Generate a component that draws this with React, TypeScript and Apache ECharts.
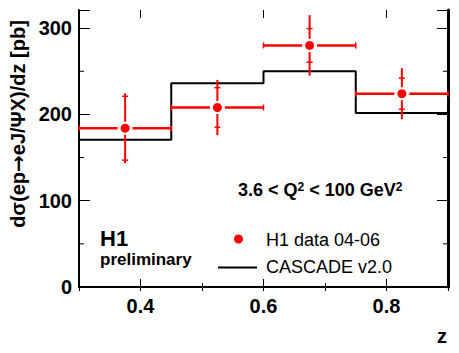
import React, { useEffect, useRef } from "react";
import * as echarts from "echarts";

const zCenters = [0.375, 0.525, 0.675, 0.825];
const zLow = [0.3, 0.45, 0.6, 0.75];
const zHigh = [0.45, 0.6, 0.75, 0.9];
const h1Values = [184, 208, 280, 224];
const statErrors = [37, 23, 19.5, 18];
const totalErrors = [40.5, 32, 35, 29.5];
const cascadeEdges = [0.3, 0.45, 0.6, 0.75, 0.9];
const cascadeValues = [170.5, 236, 250, 201.5];
const xTickLabels = [0.4, 0.6, 0.8];
const yMinorTicks = [50, 150, 250];

const FONT = "'Liberation Sans', Arial, Helvetica, sans-serif";
const RED = "#ff0000";

export default function App() {
  const ref = useRef<HTMLDivElement>(null);
  useEffect(() => {
    document.body.style.margin = "0";
    const chart = echarts.init(ref.current!, undefined, { renderer: "svg" });
    const errData = zCenters.map((z, i) => [z, h1Values[i], zLow[i], zHigh[i], statErrors[i], totalErrors[i]]);
    const cascadeData = cascadeEdges.map((e, i) => [e, cascadeValues[Math.min(i, cascadeValues.length - 1)]]);

    const option: any = {
      animation: false,
      textStyle: { fontFamily: FONT },
      grid: { left: 79, right: 11, top: 10, bottom: 66 },
      xAxis: [
        {
          type: "value", position: "bottom", min: 0.3, max: 0.9, interval: 0.1,
          axisLine: { lineStyle: { color: "#000", width: 2 } },
          axisTick: { inside: true, length: 4, lineStyle: { color: "#000", width: 1 } },
          splitLine: { show: false },
          axisLabel: {
            margin: 9, color: "#000", fontWeight: "bold", fontSize: 20, fontFamily: FONT,
            formatter: (v: number) => {
              const r = Math.round(v * 10) / 10;
              return xTickLabels.some((t) => Math.abs(t - r) < 1e-6) ? r.toFixed(1) : "";
            },
          },
        },
        {
          type: "value", position: "top", min: 0.3, max: 0.9, interval: 0.1,
          axisLine: { lineStyle: { color: "#000", width: 1 } },
          axisTick: { inside: true, length: 4, lineStyle: { color: "#000", width: 1 } },
          splitLine: { show: false },
          axisLabel: { show: false },
        },
      ],
      yAxis: [
        {
          type: "value", position: "left", min: 0, max: 321, interval: 100,
          axisLine: { show: true, lineStyle: { color: "#000", width: 2 } },
          axisTick: { show: true, inside: true, length: 11, lineStyle: { color: "#000", width: 1 } },
          splitLine: { show: false },
          axisLabel: {
            margin: 7, color: "#000", fontWeight: "bold", fontSize: 20, fontFamily: FONT,
            formatter: (v: number) => (Math.round(v) % 100 === 0 ? String(Math.round(v)) : ""),
          },
        },
        {
          type: "value", position: "right", min: 0, max: 321, interval: 100,
          axisLine: { show: true, lineStyle: { color: "#000", width: 3 } },
          axisTick: { show: true, inside: true, length: 11, lineStyle: { color: "#000", width: 1 } },
          splitLine: { show: false },
          axisLabel: { show: false },
        },
      ],
      series: [
        {
          type: "line", name: "CASCADE v2.0", step: "end", data: cascadeData,
          symbol: "none", lineStyle: { color: "#000", width: 2 }, z: 2,
        },
        {
          type: "custom", name: "xMajorTicks", data: xTickLabels.map((v) => [v, 0]),
          encode: { x: 0, y: 1 }, silent: true, z: 1,
          renderItem: (params: any, api: any) => {
            const cs = params.coordSys;
            const px = api.coord([api.value(0), 0])[0];
            const st = { stroke: "#000", lineWidth: 1 };
            return {
              type: "group",
              children: [
                { type: "line", shape: { x1: px, y1: cs.y + cs.height, x2: px, y2: cs.y + cs.height - 8 }, style: st },
                { type: "line", shape: { x1: px, y1: cs.y, x2: px, y2: cs.y + 8 }, style: st },
              ],
            };
          },
        },
        {
          type: "custom", name: "yMinorTicks", data: yMinorTicks.map((v) => [0.3, v]),
          encode: { x: 0, y: 1 }, silent: true, z: 1,
          renderItem: (params: any, api: any) => {
            const cs = params.coordSys;
            const py = api.coord([0.3, api.value(1)])[1];
            const st = { stroke: "#000", lineWidth: 1 };
            return {
              type: "group",
              children: [
                { type: "line", shape: { x1: cs.x, y1: py, x2: cs.x + 5, y2: py }, style: st },
                { type: "line", shape: { x1: cs.x + cs.width - 5, y1: py, x2: cs.x + cs.width, y2: py }, style: st },
              ],
            };
          },
        },
        {
          type: "custom", name: "errors", data: errData,
          encode: { x: 0, y: 1 }, z: 3,
          renderItem: (params: any, api: any) => {
            const x = api.value(0), y = api.value(1), lo = api.value(2), hi = api.value(3);
            const se = api.value(4), te = api.value(5);
            const c = api.coord([x, y]);
            const pLo = api.coord([lo, y])[0];
            const pHi = api.coord([hi, y])[0];
            const tTop = api.coord([x, y + te])[1];
            const tBot = api.coord([x, y - te])[1];
            const sTop = api.coord([x, y + se])[1];
            const sBot = api.coord([x, y - se])[1];
            const h = { stroke: RED, lineWidth: 2.5 };
            const v = { stroke: RED, lineWidth: 2 };
            const t = { stroke: RED, lineWidth: 1.5 };
            return {
              type: "group",
              children: [
                { type: "line", shape: { x1: pLo, y1: c[1], x2: c[0] - 7.5, y2: c[1] }, style: h },
                { type: "line", shape: { x1: c[0] + 7.5, y1: c[1], x2: pHi, y2: c[1] }, style: h },
                { type: "line", shape: { x1: pLo, y1: c[1] - 3, x2: pLo, y2: c[1] + 3 }, style: t },
                { type: "line", shape: { x1: pHi, y1: c[1] - 3, x2: pHi, y2: c[1] + 3 }, style: t },
                { type: "line", shape: { x1: c[0], y1: tTop, x2: c[0], y2: c[1] - 6.5 }, style: v },
                { type: "line", shape: { x1: c[0], y1: c[1] + 6.5, x2: c[0], y2: tBot }, style: v },
                { type: "line", shape: { x1: c[0] - 3, y1: sTop, x2: c[0] + 3, y2: sTop }, style: t },
                { type: "line", shape: { x1: c[0] - 3, y1: sBot, x2: c[0] + 3, y2: sBot }, style: t },
              ],
            };
          },
        },
        {
          type: "scatter", name: "H1 data 04-06", data: zCenters.map((z, i) => [z, h1Values[i]]),
          symbol: "circle", symbolSize: 9, itemStyle: { color: RED, opacity: 1 }, z: 4,
        },
      ],
      graphic: [
        {
          type: "text", x: 18, y: 124, rotation: Math.PI / 2,
          style: {
            text: "dσ(ep{a|→}eJ/ΨX)/dz [pb]", font: `bold 20px ${FONT}`, fill: "#000",
            align: "center", verticalAlign: "middle",
            rich: { a: { fontFamily: "'DejaVu Sans', sans-serif", fontWeight: "bold", fontSize: 20 } },
          },
        },
        {
          type: "text", x: 442, y: 336,
          style: { text: "z", font: `bold 20px ${FONT}`, fill: "#000", align: "center", verticalAlign: "middle" },
        },
        {
          type: "text", x: 238, y: 190,
          style: {
            text: "3.6 < Q{s|2} < 100 GeV{s|2}", font: `bold 18px ${FONT}`, fill: "#000",
            align: "left", verticalAlign: "middle",
            rich: { s: { fontFamily: FONT, fontWeight: "bold", fontSize: 12, verticalAlign: "top", lineHeight: 18 } },
          },
        },
        {
          type: "text", x: 100, y: 238,
          style: { text: "H1", font: `bold 22px ${FONT}`, fill: "#000", align: "left", verticalAlign: "middle" },
        },
        {
          type: "text", x: 100, y: 259,
          style: { text: "preliminary", font: `bold 17px ${FONT}`, fill: "#000", align: "left", verticalAlign: "middle" },
        },
        { type: "circle", shape: { cx: 238.5, cy: 239, r: 4.5 }, style: { fill: RED } },
        {
          type: "text", x: 266, y: 239.5,
          style: { text: "H1 data 04-06", font: `18px ${FONT}`, fill: "#000", align: "left", verticalAlign: "middle" },
        },
        { type: "line", shape: { x1: 218, y1: 267.5, x2: 257, y2: 267.5 }, style: { stroke: "#000", lineWidth: 2 } },
        {
          type: "text", x: 266, y: 266.5,
          style: { text: "CASCADE v2.0", font: `18px ${FONT}`, fill: "#000", align: "left", verticalAlign: "middle" },
        },
      ],
    };
    chart.setOption(option);
    return () => chart.dispose();
  }, []);
  return <div ref={ref} style={{ width: 459, height: 353 }} />;
}
